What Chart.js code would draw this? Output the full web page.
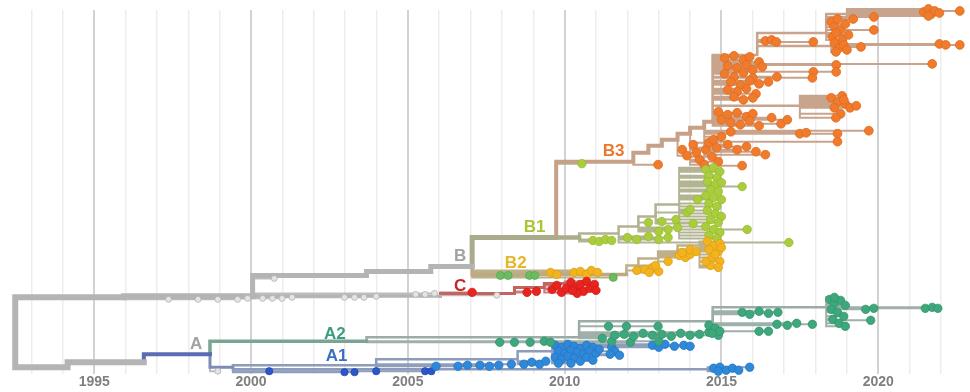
<!DOCTYPE html>
<html>
<head>
<meta charset="utf-8">
<script src="https://cdn.jsdelivr.net/npm/chart.js@4.4.0/dist/chart.umd.min.js"></script>
<style>
  html, body { margin: 0; padding: 0; background: #fff; }
  #wrap { width: 970px; height: 392px; }
</style>
</head>
<body>
<div id="wrap"><canvas id="tree"></canvas></div>
<script>
// tree nodes: [name, parent, year, row]  (rows counted top-down)
var trunkNodes = [
  ['root', null, 1992.48, 333],
  ['bc1', 'root', 1995.95, 298],
  ['bc2', 'bc1', 2000.05, 297],
  ['a0', 'root', 1994.15, 368],
  ['a1', 'a0', 1996.58, 363]
];
var bStemNodes = [
  ['b0', 'bc2', 2003.68, 276],
  ['b1', 'b0', 2005.73, 272],
  ['B', 'b1', 2007.05, 267]
];
var cStemNodes = [
  ['c0', 'bc2', 2006.04, 297]
];
var cNodes = [
  ['C', 'c0', 2008.4, 294],
  ['C1', 'C', 2009.35, 288],
  ['C2', 'C1', 2010.0, 284]
];
var b13Nodes = [
  ['B13', 'B', 2009.73, 238]
];
var b1StemNodes = [
  ['B1', 'B13', 2010.46, 238]
];
var b1Nodes = [
  ['B1a', 'B1', 2011.72, 234],
  ['B1b', 'B1a', 2012.35, 227],
  ['B1c', 'B1b', 2012.9, 217],
  ['B1d', 'B1c', 2013.65, 205]
];
var b3StemNodes = [
  ['B3', 'B13', 2012.19, 162],
  ['B3a', 'B3', 2012.67, 153],
  ['B3b', 'B3a', 2013.1, 146],
  ['B3c', 'B3b', 2013.6, 140],
  ['B3d', 'B3c', 2014.0, 134],
  ['B3e', 'B3d', 2014.45, 128],
  ['B3f', 'B3e', 2014.72, 122]
];
var b3Nodes = [
  ['B3t', 'B3f', 2016.14, 55],
  ['B3t1', 'B3t', 2018.34, 33],
  ['B3t2', 'B3t1', 2019.0, 14],
  ['B3u', 'B3t', 2018.5, 46],
  ['B3v', 'B3f', 2017.5, 106]
];
var b2StemNodes = [
  ['B2', 'B', 2011.97, 275]
];
var b2Nodes = [
  ['B2a', 'B2', 2012.35, 266],
  ['B2b', 'B2a', 2012.98, 259],
  ['B2c', 'B2b', 2013.6, 252],
  ['B2d', 'B2c', 2014.3, 246]
];
var aStemNodes = [
  ['A', 'a1', 1998.69, 355]
];
var a2StemNodes = [
  ['A2', 'A', 2003.68, 342]
];
var a2Nodes = [
  ['A2a', 'A2', 2010.46, 338],
  ['A2b', 'A2a', 2014.72, 322],
  ['A2d', 'A2b', 2018.34, 308]
];
var a1StemNodes = [
  ['A1', 'A', 1999.42, 368]
];
var a1Nodes = [
  ['A1a', 'A1', 2014.56, 370],
  ['A1b', 'A1', 2003.99, 366],
  ['A1c', 'A1b', 2008.5, 360],
  ['A1d', 'A1c', 2009.6, 352]
];

// sampled sequences: [parent, year, row]
var greyTips = [
  ['bc1', 1997.37, 300], ['bc1', 1998.31, 300], ['bc1', 1998.94, 300], ['bc1', 1999.57, 300], ['bc1', 1999.89, 299],
  ['bc2', 2000.37, 299], ['bc2', 2000.68, 299], ['bc2', 2000.99, 299], ['bc2', 2001.31, 298], ['bc2', 2000.74, 279],
  ['bc2', 2002.98, 298], ['bc2', 2003.3, 298], ['bc2', 2003.6, 298], ['bc2', 2003.99, 297],
  ['bc2', 2005.25, 295], ['bc2', 2005.55, 295], ['bc2', 2005.85, 294],
  ['c0', 2007.84, 296], ['A', 1998.94, 372]
];
var cTips = [
  ['c0', 2007.05, 293],
  ['C', 2008.8, 293], ['C', 2009.1, 292],
  ['C1', 2009.6, 290], ['C1', 2009.75, 286], ['C1', 2009.9, 293], ['C1', 2010.05, 289],
  ['C2', 2010.2, 283], ['C2', 2010.35, 288], ['C2', 2010.5, 285], ['C2', 2010.6, 292], ['C2', 2010.7, 282],
  ['C2', 2010.8, 289], ['C2', 2010.95, 285], ['C2', 2011.0, 291], ['C2', 2010.4, 294], ['C2', 2010.25, 291]
];
var b2Tips = [
  ['B', 2009.55, 273], ['B', 2009.75, 275], ['B', 2010.3, 273], ['B', 2010.5, 272], ['B', 2010.7, 275],
  ['B', 2010.85, 271], ['B', 2011.05, 273],
  ['B2', 2012.3, 271],
  ['B2a', 2012.55, 270], ['B2a', 2012.8, 268], ['B2a', 2013.0, 272], ['B2a', 2012.7, 273], ['B2a', 2012.9, 266],
  ['B2b', 2013.65, 256], ['B2b', 2013.85, 258], ['B2b', 2014.0, 255], ['B2b', 2013.75, 253], ['B2b', 2013.3, 262],
  ['B2c', 2014.0, 250], ['B2c', 2014.2, 252],
  ['B2d', 2014.55, 242], ['B2d', 2014.75, 246], ['B2d', 2014.95, 244], ['B2d', 2014.6, 250], ['B2d', 2014.9, 252],
  ['B2d', 2014.7, 258], ['B2d', 2014.95, 262], ['B2d', 2014.65, 266], ['B2d', 2014.9, 268], ['B2d', 2014.8, 255],
  ['B2d', 2015.0, 248], ['B2d', 2014.5, 262]
];
var b2GreenTips = [
  ['B', 2007.95, 276], ['B', 2008.2, 276], ['B', 2008.88, 276], ['B', 2009.05, 276], ['B', 2011.55, 278]
];
var b1Tips = [
  ['B13', 2010.55, 164],
  ['B1', 2010.9, 241], ['B1', 2011.1, 242], ['B1', 2011.3, 240], ['B1', 2011.5, 241],
  ['B1a', 2012.0, 238], ['B1a', 2012.3, 240], ['B1a', 2012.67, 237], ['B1a', 2013.0, 240], ['B1a', 2013.3, 238],
  ['B1a', 2017.15, 243],
  ['B1b', 2012.67, 223], ['B1b', 2013.0, 232], ['B1b', 2013.3, 230], ['B1b', 2013.6, 228],
  ['B1c', 2013.1, 222], ['B1c', 2013.55, 220], ['B1c', 2013.9, 213], ['B1c', 2014.1, 224],
  ['B1d', 2014.5, 170], ['B1d', 2014.75, 168], ['B1d', 2014.95, 172], ['B1d', 2014.6, 176], ['B1d', 2014.85, 178],
  ['B1d', 2014.55, 182], ['B1d', 2014.8, 185], ['B1d', 2015.0, 183], ['B1d', 2014.65, 190], ['B1d', 2014.9, 192],
  ['B1d', 2014.5, 196], ['B1d', 2014.75, 198], ['B1d', 2015.0, 200], ['B1d', 2014.6, 204], ['B1d', 2014.85, 207],
  ['B1d', 2014.55, 211], ['B1d', 2014.8, 214], ['B1d', 2015.0, 217], ['B1d', 2014.65, 220], ['B1d', 2014.9, 223],
  ['B1d', 2014.5, 227], ['B1d', 2014.75, 230], ['B1d', 2014.95, 233], ['B1d', 2014.6, 236], ['B1d', 2014.85, 239],
  ['B1d', 2014.24, 200], ['B1d', 2014.0, 210], ['B1d', 2015.66, 187], ['B1d', 2015.82, 230]
];
var b3Tips = [
  ['B3t2', 2021.45, 12], ['B3t2', 2021.6, 9], ['B3t2', 2021.7, 14], ['B3t2', 2021.8, 11], ['B3t2', 2021.95, 13],
  ['B3t2', 2021.6, 16], ['B3t2', 2022.6, 11],
  ['B3t1', 2018.5, 22], ['B3t1', 2018.6, 27], ['B3t1', 2018.7, 19], ['B3t1', 2018.8, 30], ['B3t1', 2018.95, 24],
  ['B3t1', 2019.05, 35], ['B3t1', 2018.55, 37], ['B3t1', 2019.2, 19], ['B3t1', 2019.86, 17], ['B3t1', 2019.86, 30],
  ['B3t1', 2018.65, 33], ['B3t1', 2018.85, 40],
  ['B3u', 2018.6, 43], ['B3u', 2018.75, 48], ['B3u', 2018.9, 45], ['B3u', 2018.65, 52], ['B3u', 2019.0, 50],
  ['B3u', 2019.45, 47], ['B3u', 2021.95, 44], ['B3u', 2022.15, 45], ['B3u', 2022.6, 45],
  ['B3t', 2016.4, 41], ['B3t', 2016.6, 40], ['B3t', 2016.75, 42], ['B3t', 2017.93, 42],
  ['B3f', 2021.72, 64], ['B3f', 2018.66, 65], ['B3f', 2018.66, 72], ['B3f', 2017.93, 72],
  ['B3f', 2015.1, 58], ['B3f', 2015.4, 56], ['B3f', 2015.7, 60], ['B3f', 2015.9, 57], ['B3f', 2016.2, 62],
  ['B3f', 2015.2, 66], ['B3f', 2015.5, 68], ['B3f', 2015.8, 65], ['B3f', 2016.0, 70], ['B3f', 2016.3, 67],
  ['B3f', 2015.1, 74], ['B3f', 2015.4, 77], ['B3f', 2015.7, 73], ['B3f', 2016.0, 78], ['B3f', 2015.3, 82],
  ['B3f', 2015.6, 85], ['B3f', 2015.9, 81], ['B3f', 2016.2, 84], ['B3f', 2016.5, 82], ['B3f', 2015.2, 90],
  ['B3f', 2015.5, 92], ['B3f', 2015.8, 89], ['B3f', 2016.1, 94], ['B3f', 2015.4, 97], ['B3f', 2015.7, 100],
  ['B3f', 2016.0, 98], ['B3f', 2016.77, 77], ['B3f', 2017.9, 78],
  ['B3f', 2014.9, 112], ['B3f', 2015.2, 115], ['B3f', 2015.5, 113], ['B3f', 2015.8, 117], ['B3f', 2016.0, 114],
  ['B3f', 2015.0, 120], ['B3f', 2015.3, 123], ['B3f', 2015.6, 125], ['B3f', 2015.9, 121], ['B3f', 2016.2, 126],
  ['B3f', 2016.6, 118], ['B3f', 2016.9, 124], ['B3f', 2017.1, 120],
  ['B3e', 2017.5, 134], ['B3e', 2017.7, 133], ['B3e', 2018.7, 134], ['B3e', 2019.7, 131], ['B3e', 2018.7, 142],
  ['B3v', 2018.5, 98], ['B3v', 2018.7, 102], ['B3v', 2018.85, 96], ['B3v', 2018.6, 108], ['B3v', 2018.95, 104],
  ['B3v', 2019.1, 108], ['B3v', 2018.8, 114], ['B3v', 2018.65, 118], ['B3v', 2019.3, 106], ['B3v', 2018.9, 100],
  ['B3c', 2013.75, 150], ['B3c', 2013.9, 156], ['B3d', 2014.1, 145], ['B3d', 2014.3, 160], ['B3d', 2014.5, 150],
  ['B3d', 2014.7, 157], ['B3d', 2014.45, 165], ['B3d', 2014.85, 148], ['B3d', 2014.6, 143], ['B3d', 2014.2, 153],
  ['B3d', 2014.9, 162], ['B3e', 2015.2, 145], ['B3e', 2015.5, 150], ['B3e', 2015.8, 147], ['B3e', 2016.1, 152],
  ['B3e', 2016.4, 155], ['B3e', 2015.66, 166], ['B3', 2012.98, 165], ['B3e', 2014.75, 140], ['B3e', 2015.0, 137],
  ['B3e', 2015.3, 132]
];
var a2Tips = [
  ['A2', 2007.93, 343], ['A2', 2008.4, 343], ['A2', 2008.9, 343], ['A2', 2009.35, 342], ['A2', 2009.55, 343],
  ['A2', 2011.5, 342], ['A2', 2012.1, 343], ['A2', 2013.0, 342],
  ['A2a', 2011.4, 327], ['A2a', 2011.97, 327], ['A2a', 2012.98, 327], ['A2a', 2011.6, 336], ['A2a', 2011.9, 335],
  ['A2a', 2012.2, 337], ['A2a', 2012.5, 334], ['A2a', 2012.8, 336], ['A2a', 2013.1, 335], ['A2a', 2013.4, 337],
  ['A2a', 2013.7, 334], ['A2a', 2014.0, 336], ['A2a', 2014.3, 335], ['A2a', 2014.6, 333], ['A2a', 2014.9, 336],
  ['A2a', 2011.2, 339],
  ['A2b', 2014.6, 326], ['A2b', 2014.8, 329], ['A2b', 2014.95, 332], ['A2b', 2014.7, 334], ['A2b', 2016.2, 332],
  ['A2b', 2016.5, 332], ['A2b', 2015.66, 313], ['A2b', 2015.9, 315], ['A2b', 2016.2, 312], ['A2b', 2016.5, 314],
  ['A2b', 2016.8, 313], ['A2b', 2016.77, 325], ['A2b', 2017.1, 326], ['A2b', 2017.4, 324], ['A2b', 2017.9, 325],
  ['A2d', 2018.45, 300], ['A2d', 2018.6, 304], ['A2d', 2018.8, 301], ['A2d', 2018.95, 306], ['A2d', 2018.5, 310],
  ['A2d', 2018.7, 313], ['A2d', 2018.9, 317], ['A2d', 2018.55, 320], ['A2d', 2018.75, 324], ['A2d', 2018.95, 327],
  ['A2d', 2018.6, 298], ['A2d', 2019.6, 310], ['A2d', 2019.86, 309], ['A2d', 2019.76, 321], ['A2d', 2021.5, 309],
  ['A2d', 2021.72, 308], ['A2d', 2021.9, 309]
];
var a1EarlyTips = [
  ['A1', 2000.58, 372], ['A1', 2002.98, 373], ['A1', 2003.3, 373], ['A1', 2003.99, 372],
  ['A1b', 2005.55, 372], ['A1b', 2005.75, 372]
];
var a1Tips = [
  ['A1b', 2005.9, 367], ['A1b', 2006.6, 367], ['A1b', 2006.9, 366], ['A1b', 2007.3, 366], ['A1b', 2007.6, 367],
  ['A1b', 2007.9, 366], ['A1b', 2008.3, 365],
  ['A1c', 2008.7, 365], ['A1c', 2008.95, 363], ['A1c', 2009.2, 365], ['A1c', 2009.4, 362],
  ['A1d', 2009.7, 346], ['A1d', 2009.9, 348], ['A1d', 2010.1, 345], ['A1d', 2010.3, 347], ['A1d', 2010.5, 349],
  ['A1d', 2010.7, 346], ['A1d', 2010.9, 348], ['A1d', 2009.8, 352], ['A1d', 2010.0, 354], ['A1d', 2010.2, 351],
  ['A1d', 2010.4, 353], ['A1d', 2010.6, 355], ['A1d', 2010.8, 352], ['A1d', 2011.0, 354], ['A1d', 2009.7, 358],
  ['A1d', 2009.9, 360], ['A1d', 2010.1, 357], ['A1d', 2010.3, 359], ['A1d', 2010.5, 362], ['A1d', 2010.7, 358],
  ['A1d', 2010.9, 361], ['A1d', 2009.8, 364], ['A1d', 2010.2, 364], ['A1d', 2011.1, 350], ['A1d', 2011.5, 348],
  ['A1d', 2011.6, 352], ['A1d', 2011.75, 356], ['A1d', 2011.45, 355], ['A1d', 2012.8, 346], ['A1d', 2013.0, 348],
  ['A1d', 2013.2, 345], ['A1d', 2013.5, 347], ['A1d', 2013.8, 346], ['A1d', 2014.0, 347],
  ['A1a', 2014.75, 369], ['A1a', 2014.95, 368], ['A1a', 2015.15, 371], ['A1a', 2015.35, 369], ['A1a', 2015.55, 371],
  ['A1a', 2015.9, 368], ['A1a', 2014.9, 372]
];

// clade labels
var cladeNames = ['B3', 'B1', 'B2', 'B', 'C', 'A', 'A2', 'A1'];
var cladeYears = [2011.56, 2009.04, 2008.44, 2006.67, 2006.67, 1998.25, 2002.67, 2002.73];
var cladeRows = [152, 228, 264, 257, 287, 345, 335, 357];
var cladeColors = ['#e9772e', '#a9c536', '#e9b526', '#a2a2a2', '#c42a24', '#a2a2a2', '#3a9f78', '#3a6fc4'];

var years = [];
for (var y = 1993; y <= 2022; y++) years.push(y);

var nodes = {};
[trunkNodes, bStemNodes, cStemNodes, cNodes, b13Nodes, b1StemNodes, b1Nodes, b3StemNodes, b3Nodes,
 b2StemNodes, b2Nodes, aStemNodes, a2StemNodes, a2Nodes, a1StemNodes, a1Nodes].forEach(function(list) {
  list.forEach(function(n) { nodes[n[0]] = { year: n[2], row: n[3] }; });
});

// rectangular elbow from parent down/up to the child row, then across to the child date
function elbow(parent, year, row, pts) {
  var p = nodes[parent];
  pts.push({ x: p.year, y: p.row }, { x: p.year, y: row }, { x: year, y: row }, { x: year, y: null });
}

function branches(list, color, width) {
  var pts = [];
  list.forEach(function(n) { if (n[1]) elbow(n[1], n[2], n[3], pts); });
  return {
    data: pts, showLine: true, borderColor: color, borderWidth: width, pointRadius: 0,
    spanGaps: false, borderCapStyle: 'square', borderJoinStyle: 'miter', order: 5, clip: false
  };
}

function tipLines(list, color) {
  var pts = [];
  list.forEach(function(t) { elbow(t[0], t[1], t[2], pts); });
  return {
    data: pts, showLine: true, borderColor: color, borderWidth: 2, pointRadius: 0,
    spanGaps: false, borderCapStyle: 'butt', order: 6, clip: false
  };
}

function tipDots(list, fill, edge, radius) {
  return {
    data: list.map(function(t) { return { x: t[1], y: t[2] }; }),
    showLine: false, pointRadius: radius, pointBackgroundColor: fill, pointBorderColor: edge,
    pointBorderWidth: 0.8, order: 1, clip: false
  };
}

var datasets = [
  tipLines(b3Tips, '#c9a48c'),
  tipLines(b1Tips, '#b3b494'),
  tipLines(b2Tips, '#bdb08a'),
  tipLines(b2GreenTips, '#bdb08a'),
  tipLines(cTips, '#c98080'),
  tipLines(greyTips, '#bdbdbd'),
  tipLines(a2Tips, '#9fb0aa'),
  tipLines(a1Tips, '#8f9fbb'),
  tipLines(a1EarlyTips, '#8f9fbb'),
  branches(trunkNodes, '#b4b4b4', 6),
  branches(bStemNodes, '#b4b4b4', 5),
  branches(cStemNodes, '#b4b4b4', 3),
  branches(cNodes, '#c46460', 3),
  branches(b13Nodes, '#a9ab8b', 5),
  branches(b1StemNodes, '#abad89', 4.5),
  branches(b1Nodes, '#b1b291', 2.5),
  branches(b3StemNodes, '#c6a088', 4),
  branches(b3Nodes, '#c9a48c', 2.5),
  branches(b2StemNodes, '#bcab82', 3.5),
  branches(b2Nodes, '#bfb089', 2.5),
  branches(aStemNodes, '#5b6cb2', 4),
  branches(a2StemNodes, '#7ba493', 3.5),
  branches(a2Nodes, '#9aaca5', 2.5),
  branches(a1StemNodes, '#7c8db3', 3),
  branches(a1Nodes, '#8c9cba', 2.5),
  tipDots(greyTips, '#e4e4e4', '#b0b0b0', 3),
  tipDots(cTips, '#e8241f', '#d21a16', 4.2),
  tipDots(b2GreenTips, '#6cbb62', '#58a94f', 4),
  tipDots(b2Tips, '#f2b320', '#e0a010', 4.2),
  tipDots(b1Tips, '#a9cd3c', '#98bc2c', 4.2),
  tipDots(b3Tips, '#f07b2c', '#e06a1e', 4.4),
  tipDots(a2Tips, '#3ea77c', '#2f966c', 4.2),
  tipDots(a1Tips, '#3088d8', '#2276c6', 4.2),
  tipDots(a1EarlyTips, '#2d57c8', '#2248b4', 3.6)
];

var cladeLabelPlugin = {
  id: 'cladeLabels',
  afterDatasetsDraw: function(chart) {
    var ctx = chart.ctx, xs = chart.scales.x, ys = chart.scales.y;
    ctx.save();
    ctx.font = 'bold 17px "Liberation Sans", Arial, sans-serif';
    ctx.textAlign = 'center';
    ctx.textBaseline = 'middle';
    cladeNames.forEach(function(name, i) {
      ctx.fillStyle = cladeColors[i];
      ctx.fillText(name, xs.getPixelForValue(cladeYears[i]), ys.getPixelForValue(cladeRows[i]));
    });
    ctx.restore();
  }
};

new Chart(document.getElementById('tree'), {
  type: 'scatter',
  data: { datasets: datasets },
  plugins: [cladeLabelPlugin],
  options: {
    responsive: true,
    maintainAspectRatio: false,
    animation: false,
    layout: { padding: { top: 10, left: 0, right: 0, bottom: 1 } },
    plugins: { legend: { display: false }, tooltip: { enabled: false } },
    scales: {
      x: {
        type: 'linear',
        min: 1992.16,
        max: 2022.76,
        afterBuildTicks: function(scale) {
          scale.ticks = years.map(function(v) { return { value: v }; });
        },
        border: { display: false },
        grid: {
          drawTicks: false,
          color: function(c) { return c.tick && c.tick.value % 5 === 0 ? '#d2d2d2' : '#ededed'; },
          lineWidth: function(c) { return c.tick && c.tick.value % 5 === 0 ? 2 : 1.5; }
        },
        ticks: {
          autoSkip: false,
          maxRotation: 0,
          padding: 0,
          color: '#7f7f7f',
          font: { family: '"Liberation Sans", Arial, sans-serif', size: 14, weight: 'bold' },
          callback: function(v) { return v % 5 === 0 ? String(v) : ''; }
        }
      },
      y: {
        type: 'linear',
        display: false,
        reverse: true,
        min: 10,
        max: 375
      }
    }
  }
});
</script>
</body>
</html>
